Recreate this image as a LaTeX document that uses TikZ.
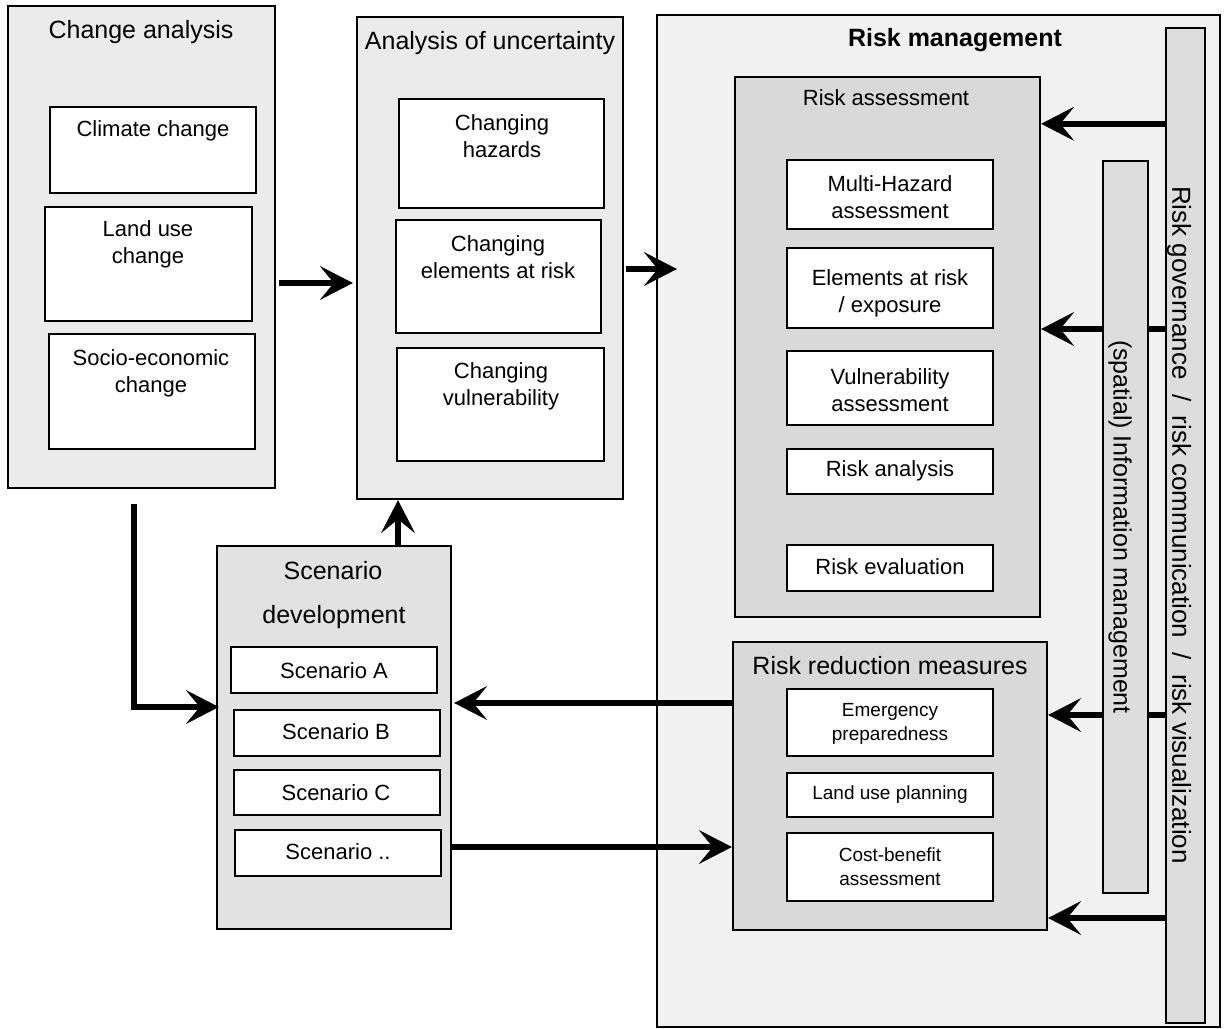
\documentclass[tikz,border=0pt]{standalone}
\usepackage{fontspec}
\setmainfont{Liberation Sans}
\usetikzlibrary{arrows.meta,fit,calc}

\definecolor{panelgray}{HTML}{EBEBEB}
\definecolor{mgmtgray}{HTML}{F1F1F1}
\definecolor{groupgray}{HTML}{D9D9D9}
\definecolor{scengray}{HTML}{E2E2E2}
\definecolor{bargray}{HTML}{DDDDDD}

\begin{document}
\begin{tikzpicture}[x=1pt,y=-1pt,
  frame/.style={draw=black, line width=2.4pt, inner sep=0pt, fit={#1}},
  whitebox/.style={frame={#1}, fill=white},
  ttl/.style={font=\fontsize{25}{30}\selectfont, inner sep=0pt},
  txt/.style={font=\fontsize{22}{27}\selectfont, align=center, inner sep=0pt},
  sml/.style={font=\fontsize{19}{24}\selectfont, align=center, inner sep=0pt},
  arr/.style={line width=6pt, -{Stealth[length=33pt, width=34pt, inset=14pt, line width=0.5pt]}},
  link/.style={line width=6pt}
]
\fill[white] (0,0) rectangle (1225,1028);
\useasboundingbox (0,0) rectangle (1225,1028);

% ---- Change analysis ----
\node[frame={(8,6)(275,488)}, fill=panelgray] (ca) {};
\node[ttl] (catitle) at (141,32) {Change analysis};
\node[whitebox={(50,107)(256,193)}] (cc) {};
\node[txt] (cctext) at (153,131) {Climate change};
\node[whitebox={(45,207)(252,321)}] (lu) {};
\node[txt] (lutext) at (148,244) {Land use\\change};
\node[whitebox={(49,334)(255,449)}] (se) {};
\node[txt] (setext) at (151,373) {Socio-economic\\change};

% ---- Analysis of uncertainty ----
\node[frame={(357,17)(623,499)}, fill=panelgray] (au) {};
\node[ttl] (autitle) at (490,43) {Analysis of uncertainty};
\node[whitebox={(399,99)(604,208)}] (ch) {};
\node[txt] (chtext) at (502,136) {Changing\\hazards};
\node[whitebox={(396,220)(601,333)}] (ce) {};
\node[txt] (cetext) at (498,257) {Changing\\elements at risk};
\node[whitebox={(397,348)(604,461)}] (cv) {};
\node[txt] (cvtext) at (501,386) {Changing\\vulnerability};

% ---- Scenario development ----
\node[frame={(217,546)(451,929)}, fill=scengray] (sd) {};
\node[ttl] (sdtitle1) at (333,571) {Scenario};
\node[ttl] (sdtitle2) at (334,617) {development};
\node[whitebox={(231,647)(437,693)}] (sa) {};
\node[txt] (satext) at (334,671) {Scenario A};
\node[whitebox={(234,710)(440,756)}] (sb) {};
\node[txt] (sbtext) at (336,732) {Scenario B};
\node[whitebox={(234,770)(440,815)}] (sc) {};
\node[txt] (sctext) at (336,793) {Scenario C};
\node[whitebox={(235,830)(441,876)}] (sx) {};
\node[txt] (sxtext) at (338,852) {Scenario ..};

% ---- Risk management ----
\node[frame={(657,15)(1220,1027)}, fill=mgmtgray] (rm) {};
\node[ttl, font=\fontsize{25}{30}\selectfont\bfseries] (rmtitle) at (955,40) {Risk management};

\node[frame={(1166,28)(1205,1023)}, fill=bargray] (gov) {};
\node[rotate=-90, inner sep=0pt, font=\fontsize{26}{30}\selectfont] (govtext) at (1179,525)
  {Risk governance~~/~~risk communication~~/~~risk visualization};
\node[frame={(1103,161)(1148,893)}, fill=bargray] (info) {};
\node[rotate=-90, inner sep=0pt, font=\fontsize{25}{30}\selectfont] (infotext) at (1120,527)
  {(spatial) Information management};

% Risk assessment
\node[frame={(735,77)(1040,617)}, fill=groupgray] (ra) {};
\node[txt] (ratitle) at (886,98) {Risk assessment};
\node[whitebox={(787,160)(993,229)}] (mh) {};
\node[txt] (mhtext) at (890,197) {Multi-Hazard\\assessment};
\node[whitebox={(787,248)(993,328)}] (ea) {};
\node[txt] (eatext) at (890,293) {Elements at risk\\/ exposure};
\node[whitebox={(787,351)(993,425)}] (va) {};
\node[txt] (vatext) at (890,390) {Vulnerability\\assessment};
\node[whitebox={(787,449)(993,494)}] (ran) {};
\node[txt] (rantext) at (890,471) {Risk analysis};
\node[whitebox={(787,545)(993,591)}] (rev) {};
\node[txt] (revtext) at (890,567) {Risk evaluation};

% Risk reduction measures
\node[frame={(733,642)(1047,930)}, fill=groupgray] (rr) {};
\node[ttl] (rrtitle) at (890,666) {Risk reduction measures};
\node[whitebox={(787,689)(993,756)}] (ep) {};
\node[sml] (eptext) at (890,724) {Emergency\\preparedness};
\node[whitebox={(787,773)(993,817)}] (lp) {};
\node[sml] (lptext) at (890,795) {Land use planning};
\node[whitebox={(787,833)(993,901)}] (cb) {};
\node[sml] (cbtext) at (890,867) {Cost-benefit\\assessment};

% ---- Connectors ----
\draw[arr] ($(ca.east)+(3,36)$) -- ($(au.west|-ca.east)+(-3,36)$);
\draw[arr] ($(au.east)+(2,11)$) -- ($(rm.west|-au.east)+(21,11)$);
\draw[arr] ($(ca.south)+(-7.5,15)$) |- ($(sd.west)+(3,-30.5)$);
\coordinate (sdup) at ($(sd.north)+(64,0)$);
\draw[arr] (sdup) -- (sdup |- au.south);
\draw[arr] ($(rr.west)+(0,-83)$) -- ($(sd.east|-rr.west)+(2,-83)$);
\draw[arr] ($(sd.east)+(0,109.5)$) -- ($(rr.west|-sd.east)+(0,109.5)$);

\draw[arr] ($(gov.west|-ra.north)+(0,48)$) -- ($(ra.north east)+(0,48)$);
\draw[link] ($(gov.west|-ra.east)+(0,-18)$) -- ($(info.east|-ra.east)+(0,-18)$);
\draw[arr] ($(info.west|-ra.east)+(0,-18)$) -- ($(ra.east)+(0,-18)$);
\draw[link] ($(gov.west|-rr.east)+(0,-71)$) -- ($(info.east|-rr.east)+(0,-71)$);
\draw[arr] ($(info.west|-rr.east)+(0,-71)$) -- ($(rr.east)+(0,-71)$);
\draw[arr] ($(gov.west|-rr.east)+(0,132)$) -- ($(rr.east)+(0,132)$);
\end{tikzpicture}
\end{document}
